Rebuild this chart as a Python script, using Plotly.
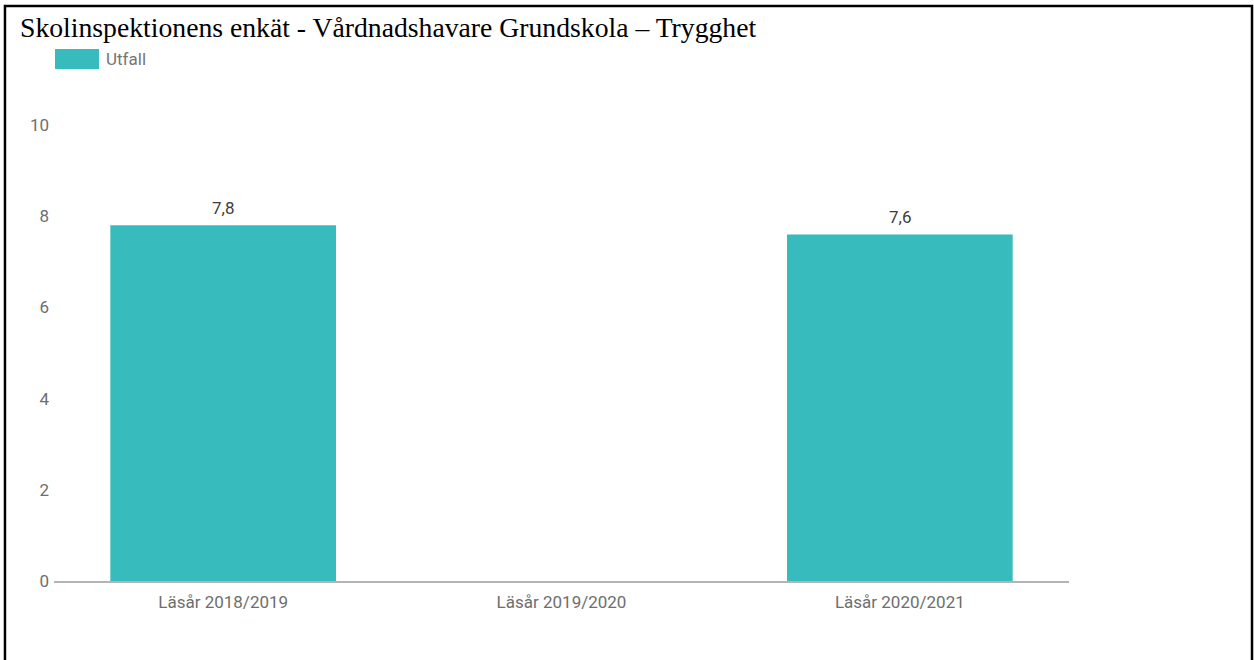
"""Skolinspektionens enkät - Trygghet bar chart."""

import plotly.graph_objects as go

# data
categories = ["Läsår 2018/2019", "Läsår 2019/2020", "Läsår 2020/2021"]
utfall = [7.8, None, 7.6]
series_name = "Utfall"
y_ticks = [0, 2, 4, 6, 8, 10]

BAR_COLOR = "#37bbbd"
TICK_COLOR = "#6e6e6e"
FONT = "Roboto"

fig = go.Figure()

fig.add_trace(go.Bar(
    x=categories, y=utfall,
    name=series_name,
    marker=dict(color=BAR_COLOR, line=dict(width=0)),
    showlegend=False,
    hovertemplate='%{x}: %{y}<extra></extra>'
))

# value labels above bars
for cat, val in zip(categories, utfall):
    if val is None:
        continue
    fig.add_annotation(
        x=cat, y=val, xref="x", yref="y",
        text=f"{val:.1f}".replace(".", ","),
        showarrow=False, yanchor="bottom", yshift=5,
        font=dict(family=FONT, size=17, color="#3c3c3c")
    )

# hand-made legend (wide swatch like the original)
fig.add_shape(type="rect", xref="paper", yref="paper",
              x0=0.001, x1=0.0443, y0=1.1228, y1=1.1667,
              fillcolor=BAR_COLOR, line=dict(width=0))
fig.add_annotation(x=0.0493, y=1.1447, xref="paper", yref="paper",
                   text=series_name, showarrow=False,
                   xanchor="left", yanchor="middle",
                   font=dict(family=FONT, size=17, color="#757575"))

# outer frame
fig.add_shape(type="rect", xref="paper", yref="paper",
              x0=-0.0483, x1=1.1803, y0=-0.26, y1=1.261,
              line=dict(color="black", width=2.5))

fig.update_xaxes(
    showgrid=False, showline=True, linecolor="#b4b4b4", linewidth=2,
    ticks="", ticklabelstandoff=5,
    tickfont=dict(family=FONT, size=17, color=TICK_COLOR),
    fixedrange=True
)
fig.update_yaxes(
    range=[0, 10], tickvals=y_ticks, showgrid=False, zeroline=False,
    showline=False, ticks="", ticklabelstandoff=4,
    tickfont=dict(family=FONT, size=17, color=TICK_COLOR)
)

fig.update_layout(
    title=dict(
        text="Skolinspektionens enkät - Vårdnadshavare Grundskola – Trygghet",
        x=20 / 1254, xanchor="left", xref="container",
        y=1 - 27 / 660, yanchor="middle", yref="container",
        font=dict(family="Liberation Serif", size=27.7, color="black")
    ),
    width=1254, height=660,
    bargap=0.333,
    plot_bgcolor="white", paper_bgcolor="white",
    margin=dict(l=54, r=185, t=125, b=79),
    separators=", ",
    showlegend=False
)

fig.write_html("out.html",
               config={"displayModeBar": False},
               post_script="document.body.style.margin='0';"
                           "document.body.style.overflow='hidden';")
